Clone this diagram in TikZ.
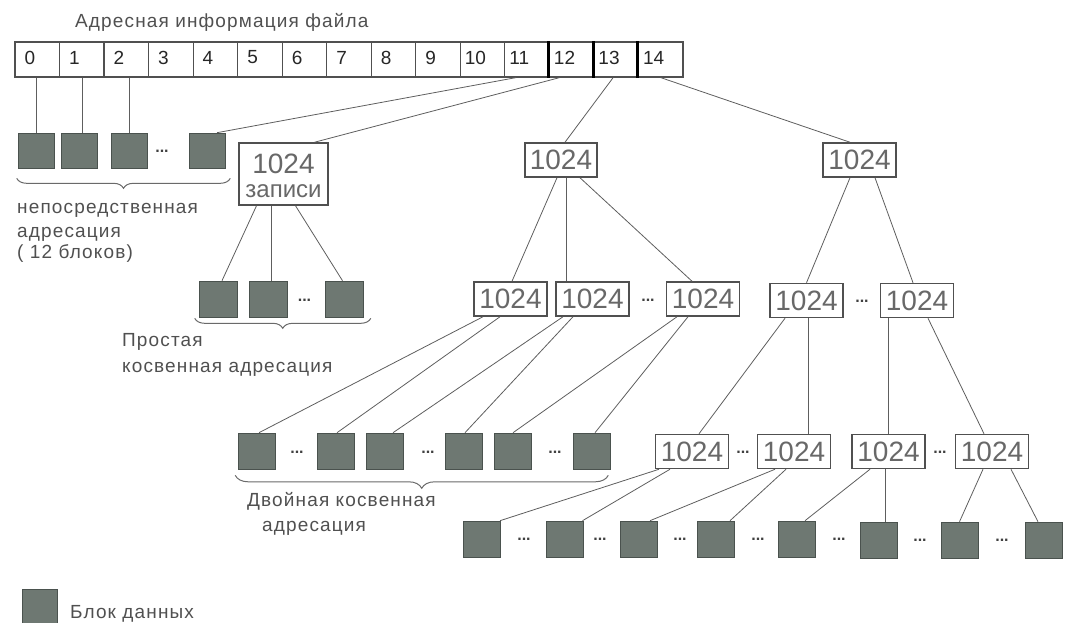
\documentclass[tikz,border=0pt]{standalone}
\usepackage{fontspec}
\setmainfont{Liberation Sans}
\newfontfamily\lblfont[LetterSpace=6]{Liberation Sans}
\usetikzlibrary{decorations.pathreplacing,calc}
\definecolor{blkfill}{HTML}{6E7872}
\definecolor{blkline}{HTML}{4A524E}
\definecolor{boxline}{HTML}{505050}
\definecolor{conncol}{HTML}{5E5E5E}
\definecolor{lbl}{HTML}{505050}
\definecolor{numcol}{HTML}{686868}
\begin{document}
\begin{tikzpicture}[x=1pt,y=-1pt,
 blk/.style={draw=blkline, fill=blkfill, line width=0.6pt, minimum width=37pt, minimum height=36pt, inner sep=0pt},
 kbox/.style={draw=boxline, line width=1.5pt, fill=white, minimum width=73pt, minimum height=34pt, inner sep=0pt, text=numcol, font=\fontsize{28}{30}\selectfont},
 cell/.style={draw=boxline, line width=1.2pt, fill=white, minimum width=44.53pt, minimum height=35pt, inner sep=0pt},
 cellnum/.style={anchor=west, inner sep=0pt, text=black!85, font=\fontsize{19}{21}\selectfont},
 conn/.style={draw=conncol, line width=0.8pt},
 lab/.style={anchor=base west, inner sep=0pt, text=lbl, font=\lblfont\fontsize{19}{22}\selectfont},
 dotsn/.style={inner sep=0pt, text=black!75, font=\bfseries\fontsize{16}{16}\selectfont},
 brc/.style={draw=lbl!85, line width=1pt, decorate, decoration={brace, mirror, amplitude=#1}},
]
\useasboundingbox (0,0) rectangle (1068,623);

% title
\node[lab] (title) at (75,28) {Адресная информация файла};

% address cells
\foreach \i in {0,...,14} {
  \node[cell] (c\i) at ({15+44.53*(\i+0.5)},59.5) {};
  \ifnum\i<10
    \node[cellnum] (n\i) at ([xshift=10pt,yshift=2pt]c\i.west) {\i};
  \else
    \node[cellnum] (n\i) at ([xshift=5pt,yshift=2pt]c\i.west) {\i};
  \fi
}
\foreach \i in {12,13,14} \draw[line width=3pt, black] (c\i.north west) -- (c\i.south west);

% direct blocks
\node[blk, minimum width=36pt, minimum height=35pt] (d1) at (36,150.5) {};
\node[blk, minimum width=36pt, minimum height=35pt] (d2) at (79.5,150.5) {};
\node[blk, minimum width=36pt, minimum height=35pt] (d3) at (129,150.5) {};
\node[dotsn] (dd) at (162,151) {...};
\node[blk, minimum width=36pt, minimum height=35pt] (d4) at (207,150.5) {};
\draw[conn] (d1.north) -- (d1.north |- c0.south);
\draw[conn] ([xshift=3pt]d2.north) -- ([xshift=3pt]d2.north |- c1.south);
\draw[conn] (d3.north) -- (d3.north |- c2.south);
\draw[conn] ([xshift=-11pt]c11.south) -- ([xshift=10pt]d4.north);
\draw[brc=10pt] ([xshift=-1pt,yshift=-10pt]d1.south west) -- ([xshift=5pt,yshift=-10pt]d4.south east);
\node[lab] (l1) at (17,213) {непосредственная};
\node[lab] (l2) at (17,237) {адресация};
\node[lab] (l3) at (17,258) {( 12 блоков)};

% single indirect
\node[kbox, minimum width=89pt, minimum height=62pt] (s0) at (283.5,174) {};
\node[inner sep=0pt, text=numcol, font=\fontsize{28}{30}\selectfont, anchor=base] (s0a) at (283.5,173) {1024};
\node[inner sep=0pt, text=numcol, font=\fontsize{24}{26}\selectfont, anchor=base] (s0b) at (283.5,197) {записи};
\draw[conn] ([xshift=-12pt]c12.south) -- ([xshift=31pt]s0.north);
\node[blk, minimum width=38pt] (e1) at (218,299) {};
\node[blk, minimum width=38pt] (e2) at (268,299) {};
\node[dotsn] (ed) at (304.5,300) {...};
\node[blk, minimum width=38pt] (e3) at (344.5,299) {};
\draw[conn] ([xshift=-27pt]s0.south) -- ([xshift=4pt]e1.north);
\draw[conn] ([xshift=3pt]e2.north) -- ([xshift=3pt]e2.north |- s0.south);
\draw[conn] ([xshift=12pt]s0.south) -- ([xshift=-2pt]e3.north);
\draw[brc=10pt] ([xshift=-4pt,yshift=-1pt]e1.south west) -- ([xshift=7pt,yshift=-1pt]e3.south east);
\node[lab] (l4) at (122,346) {Простая};
\node[lab] (l5) at (122,372) {косвенная адресация};

% double indirect
\node[kbox, minimum width=72pt] (k13) at (561,160) {1024};
\draw[conn] ([xshift=-3pt]c13.south) -- ([xshift=4pt]k13.north);
\node[kbox] (A) at (510.5,299) {1024};
\node[kbox] (B) at (592.5,299) {1024};
\node[dotsn] (abd) at (648,300) {...};
\node[kbox] (C) at (703,299) {1024};
\draw[conn] ([xshift=-4pt]k13.south) -- ([xshift=1.5pt]A.north);
\draw[conn] ([xshift=-26.5pt]B.north) -- ([xshift=-26.5pt]B.north |- k13.south);
\draw[conn] ([xshift=19pt]k13.south) -- ([xshift=-11pt]C.north);

\node[blk] (g1) at (257,451) {};
\node[dotsn] (gd1) at (297,452) {...};
\node[blk] (g2) at (335.5,451) {};
\node[blk] (g3) at (384.5,451) {};
\node[dotsn] (gd2) at (428,452) {...};
\node[blk] (g4) at (464,451) {};
\node[blk] (g5) at (513,451) {};
\node[dotsn] (gd3) at (555,452) {...};
\node[blk] (g6) at (591.5,451) {};
\draw[conn] ([xshift=-27.5pt]A.south) -- ([xshift=2pt]g1.north);
\draw[conn] ([xshift=-10.5pt]A.south) -- ([xshift=1.5pt]g2.north);
\draw[conn] ([xshift=-29.5pt]B.south) -- ([xshift=8.5pt]g3.north);
\draw[conn] ([xshift=-19.5pt]B.south) -- ([xshift=1pt]g4.north);
\draw[conn] ([xshift=-26pt]C.south) -- (g5.north);
\draw[conn] ([xshift=-15pt]C.south) -- ([xshift=3.5pt]g6.north);
\draw[brc=13pt] ([xshift=-3pt,yshift=-6pt]g1.south west) -- ([xshift=-2pt,yshift=-6pt]g6.south east);
\node[lab] (l6) at (247,506) {Двойная косвенная};
\node[lab] (l7) at (262,531) {адресация};

% triple indirect
\node[kbox] (k14) at (859.5,160) {1024};
\draw[conn] (c14.south) -- ([xshift=-9.5pt]k14.north);
\node[kbox] (D) at (806.5,300.5) {1024};
\node[dotsn] (ded) at (862,301) {...};
\node[kbox] (E) at (917,300.5) {1024};
\draw[conn] ([xshift=-9.5pt]k14.south) -- (D.north);
\draw[conn] ([xshift=15.5pt]k14.south) -- ([xshift=-4pt]E.north);

\node[kbox] (F) at (692,451.5) {1024};
\node[dotsn] (fgd) at (743,452) {...};
\node[kbox] (G) at (794,451.5) {1024};
\node[kbox] (H) at (888.5,451.5) {1024};
\node[dotsn] (hid) at (940,452) {...};
\node[kbox] (I) at (992,451.5) {1024};
\draw[conn] ([xshift=-21.5pt]D.south) -- ([xshift=7pt]F.north);
\draw[conn] ([xshift=1.5pt]D.south) -- ([xshift=1.5pt]D.south |- G.north);
\draw[conn] ([xshift=-0.5pt]H.north) -- ([xshift=-0.5pt]H.north |- E.south);
\draw[conn] ([xshift=11pt]E.south) -- ([xshift=-8pt]I.north);

\node[blk] (h1) at (482,539) {};
\node[dotsn] (hd1) at (524,539) {...};
\node[blk] (h2) at (564.5,539) {};
\node[dotsn] (hd2) at (600,539) {...};
\node[blk] (h3) at (638.5,539) {};
\node[dotsn] (hd3) at (680,539) {...};
\node[blk] (h4) at (716,539) {};
\node[dotsn] (hd4) at (758,539) {...};
\node[blk] (h5) at (797,539) {};
\node[dotsn] (hd5) at (839,539) {...};
\node[blk] (h6) at (879,540) {};
\node[dotsn] (hd6) at (920,540) {...};
\node[blk] (h7) at (959.5,540) {};
\node[dotsn] (hd7) at (1002,540) {...};
\node[blk] (h8) at (1043.5,540) {};
\draw[conn] ([xshift=-33pt]F.south) -- ([xshift=18pt]h1.north);
\draw[conn] ([xshift=-22pt]F.south) -- ([xshift=18pt]h2.north);
\draw[conn] ([xshift=-19pt]G.south) -- ([xshift=11.5pt]h3.north);
\draw[conn] ([xshift=-8pt]G.south) -- ([xshift=14pt]h4.north);
\draw[conn] ([xshift=-18.5pt]H.south) -- ([xshift=8pt]h5.north);
\draw[conn] ([xshift=6pt]h6.north) -- ([xshift=6pt]h6.north |- H.south);
\draw[conn] ([xshift=-9pt]I.south) -- (h7.north);
\draw[conn] ([xshift=19pt]I.south) -- ([xshift=-5.5pt]h8.north);

% legend
\node[blk, minimum width=35pt, minimum height=34pt] (lg) at (39.5,606) {};
\node[lab] (l8) at (70,618) {Блок данных};
\end{tikzpicture}
\end{document}
